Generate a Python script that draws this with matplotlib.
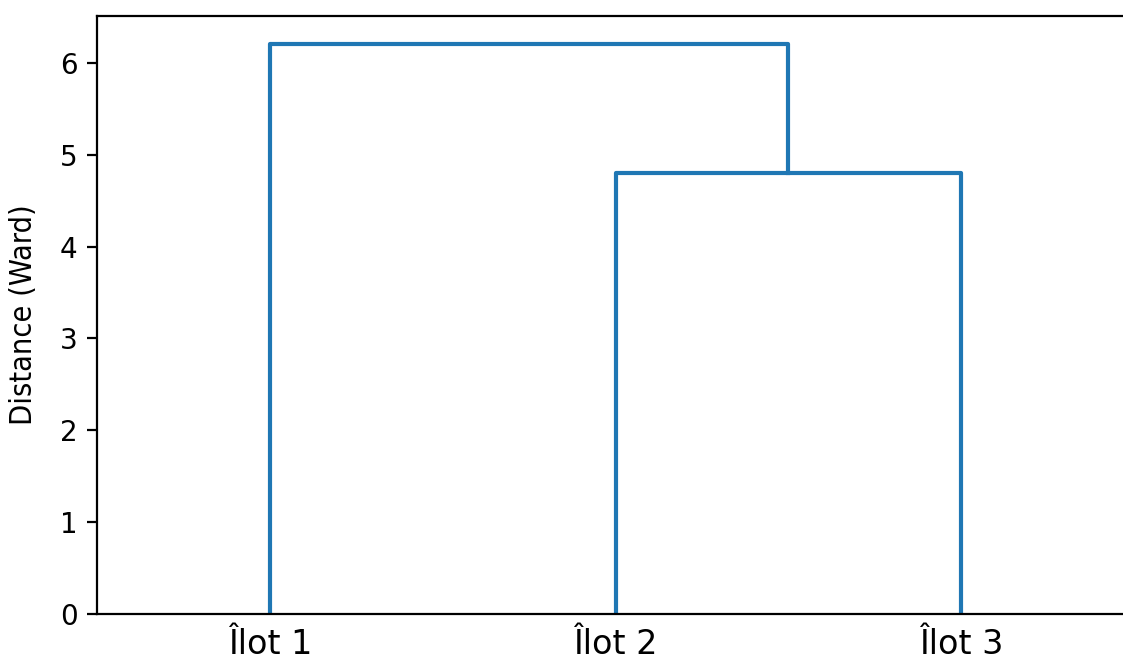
import matplotlib.pyplot as plt

labels = ['Îlot 1', 'Îlot 2', 'Îlot 3']
# merges: (left node, right node, distance); nodes 0-2 are leaves
merges = [(1, 2, 4.8), (0, 3, 6.2)]

fig = plt.figure(figsize=(5.615, 3.3), dpi=200)
ax = fig.add_axes([0.0864, 0.0697, 0.9234, 0.9061])

# leaf positions like scipy: 5, 15, 25 ...
pos = {i: 5 + 10 * i for i in range(len(labels))}
height = {i: 0.0 for i in range(len(labels))}
for k, (a, b, d) in enumerate(merges):
    node = len(labels) + k
    xs = [pos[a], pos[a], pos[b], pos[b]]
    ys = [height[a], d, d, height[b]]
    ax.plot(xs, ys, color='#1f77b4', lw=1.5)
    pos[node] = (pos[a] + pos[b]) / 2
    height[node] = d

ax.set_xlim(0, 10 * len(labels))
ax.set_ylim(0, max(m[2] for m in merges) * 1.05)
ax.set_xticks([pos[i] for i in range(len(labels))])
ax.set_xticklabels(labels, fontsize=12)
ax.tick_params(axis='x', length=0, pad=5)
ax.tick_params(axis='y', labelsize=10)
ax.set_ylabel('Distance (Ward)', fontsize=11, fontstretch='condensed',
              labelpad=8)

fig.savefig('out.png', dpi=200)
